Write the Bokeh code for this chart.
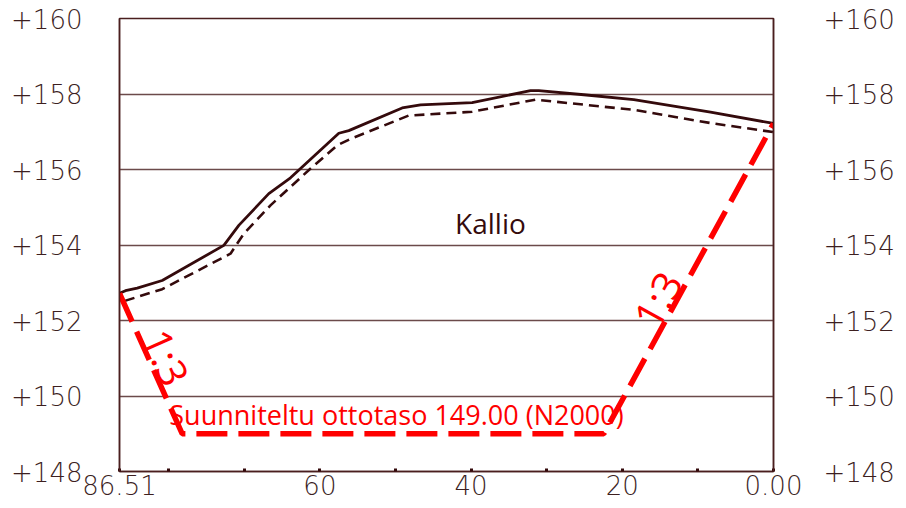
from bokeh.plotting import figure
from bokeh.models import Range1d, LinearAxis, FixedTicker, Label
from bokeh.embed import file_html
from bokeh.resources import INLINE

# ---- data ----
surface_x = [86.51, 85.72, 84.17, 80.86, 72.71, 70.73, 66.76, 63.89, 57.50, 56.18,
             49.12, 46.69, 39.86, 32.14, 31.05, 25.09, 18.48, 8.33, 0.0]
surface_y = [152.72, 152.79, 152.86, 153.06, 153.99, 154.52, 155.36, 155.78, 156.96, 157.03,
             157.63, 157.71, 157.77, 158.09, 158.09, 157.98, 157.85, 157.52, 157.22]

rock_x = [85.8, 80.86, 71.83, 70.07, 66.54, 61.27, 57.71, 55.95, 48.24, 39.86,
          31.48, 18.48, 8.33, 0.0]
rock_y = [152.52, 152.83, 153.77, 154.30, 155.05, 156.02, 156.64, 156.81, 157.43, 157.53,
          157.85, 157.58, 157.23, 156.99]

design_x = [86.51, 78.22, 22.45, 0.0]
design_y = [152.72, 149.0, 149.0, 157.22]

x_ticks = [86.51, 80, 70, 60, 50, 40, 30, 20, 10, 0]
x_labels = ["86.51", "", "", "60", "", "40", "", "20", "", "0.00"]
y_ticks = [148, 150, 152, 154, 156, 158, 160]
y_labels = ["+148", "+150", "+152", "+154", "+156", "+158", "+160"]

rock_label = "Kallio"
design_label = "Suunniteltu ottotaso 149.00 (N2000)"
slope_label = "1:3"

# ---- styles ----
DARK = "#340a0c"
GRID = "#6b4a4a"
FRAME = "#4a1e1e"
TICKTXT = "#3d1f1f"
RED = "#ff0000"
TICKFONT = "DejaVu Sans Light"

p = figure(width=906, height=508,
           x_range=Range1d(86.51, 0), y_range=Range1d(148, 160),
           output_backend="svg", toolbar_location=None,
           min_border_left=119, min_border_right=133,
           min_border_top=18, min_border_bottom=37)
p.background_fill_color = "white"
p.border_fill_color = "white"
p.outline_line_color = FRAME
p.outline_line_width = 1.5

p.xgrid.visible = False
p.ygrid.ticker = FixedTicker(ticks=y_ticks[1:-1])
p.ygrid.grid_line_color = GRID
p.ygrid.grid_line_width = 1.5

def style_axis(ax, ticks, labels, standoff):
    ax.ticker = FixedTicker(ticks=ticks)
    ax.major_label_overrides = {t: l for t, l in zip(ticks, labels)}
    ax.major_label_text_font = TICKFONT
    ax.major_label_text_font_size = "26px"
    ax.major_label_text_color = TICKTXT
    ax.major_label_standoff = standoff
    ax.axis_line_color = FRAME
    ax.axis_line_width = 1.5
    ax.minor_tick_line_color = None

xa = p.xaxis[0]
style_axis(xa, x_ticks, x_labels, 3)
xa.major_tick_in = 3
xa.major_tick_out = 0
xa.major_tick_line_width = 3
xa.major_tick_line_color = DARK

ya = p.yaxis[0]
style_axis(ya, y_ticks, y_labels, 31)
ya.major_tick_line_color = None

yr = LinearAxis()
style_axis(yr, y_ticks, y_labels, 44)
yr.major_tick_line_color = None
p.add_layout(yr, "right")

# ---- lines ----
p.line(surface_x, surface_y, line_color=DARK, line_width=2.8)
p.line(rock_x, rock_y, line_color=DARK, line_width=2.6, line_dash="10 6")
p.line(design_x, design_y, line_color=RED, line_width=5.5, line_dash="31 11")

# ---- texts ----
p.add_layout(Label(x=37.44, y=154.59, text=rock_label, text_font="Open Sans",
                   text_font_size="28px", text_color=DARK, text_align="center",
                   text_baseline="alphabetic"))
p.add_layout(Label(x=49.87, y=149.52, text=design_label, text_font="Open Sans",
                   text_font_size="27px", text_color=RED, text_align="center",
                   text_baseline="alphabetic"))
p.add_layout(Label(x=80.29, y=151.02, text=slope_label, text_font="Open Sans",
                   text_font_size="40px", text_color=RED, text_align="center",
                   text_baseline="middle", angle=-1.152))
p.add_layout(Label(x=15.35, y=152.56, text=slope_label, text_font="Open Sans",
                   text_font_size="40px", text_color=RED, text_align="center",
                   text_baseline="middle", angle=1.065))

open("out.html", "w").write(file_html(p, INLINE))
